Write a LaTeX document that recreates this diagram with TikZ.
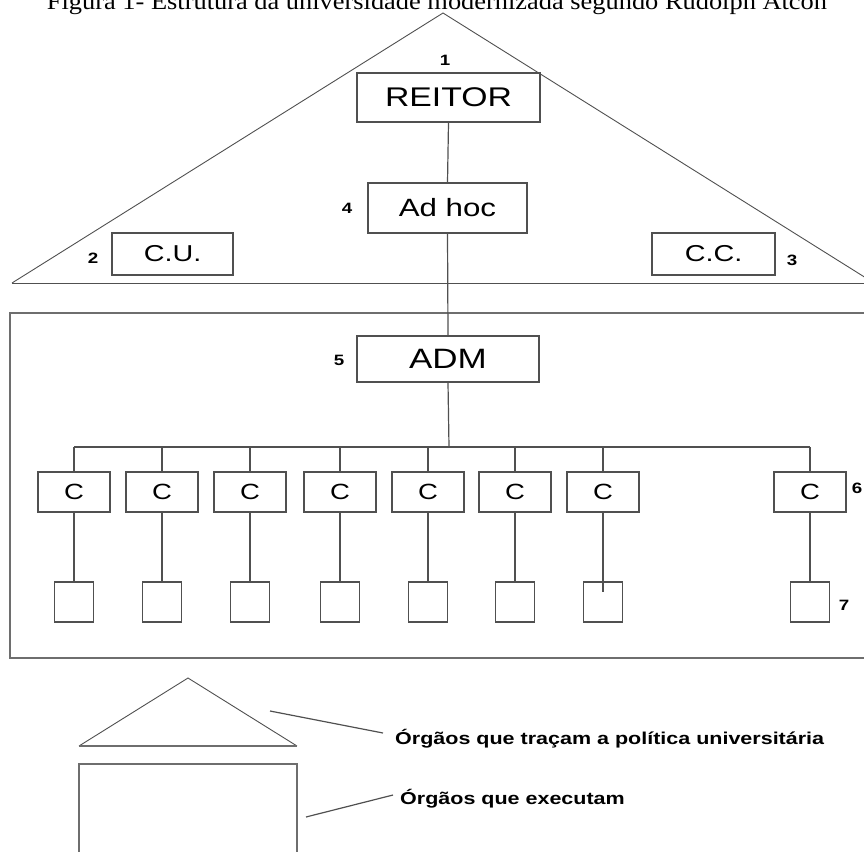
\documentclass[tikz,border=0pt]{standalone}
\usepackage{fontspec}
\setmainfont{Liberation Sans}[FakeStretch=1.25]
\newfontfamily\titlefont{Liberation Serif}[FakeStretch=1.1]
\definecolor{linecol}{HTML}{505050}
\definecolor{framecol}{HTML}{6E6E6E}
\begin{document}
\begin{tikzpicture}[x=1pt,y=-1pt,
  box/.style={draw=linecol, line width=1.2pt, inner sep=0pt, fill=white},
  link/.style={draw=linecol, line width=1.2pt},
  thin/.style={draw=linecol, line width=0.9pt},
  frame/.style={draw=framecol, line width=1.6pt},
  num/.style={font=\bfseries\fontsize{15}{15}\selectfont, inner sep=0pt},
  legtxt/.style={font=\bfseries\fontsize{17.2}{17.2}\selectfont, inner sep=0pt, anchor=base west}]
\useasboundingbox (0,0) rectangle (864,851);
\clip (0,0) rectangle (864,851);
% title
\node[inner sep=0pt, anchor=base, font=\titlefont\fontsize{24}{24}\selectfont] (title) at (437,10) {Figura 1- Estrutura da universidade modernizada segundo Rudolph Atcon};
% upper triangle
\coordinate (apex) at (443,13);
\coordinate (tl) at (12,283);
\coordinate (tr) at (874,283);
\draw[thin] (tl) -- (apex) -- (tr);
\draw[thin] (tl) -- (tr);
% frame
\coordinate (fa) at (10,313);
\coordinate (fb) at (900,658);
\draw[frame] (fa) rectangle (fb);
% boxes
\node[box, minimum width=183pt, minimum height=49pt, font=\fontsize{27}{27}\selectfont] (reitor) at (448.5,97.5) {REITOR};
\node[box, minimum width=159pt, minimum height=50pt, font=\fontsize{25}{25}\selectfont] (adhoc) at (447.5,208) {Ad hoc};
\node[box, minimum width=121pt, minimum height=42pt, font=\fontsize{23}{23}\selectfont] (cu) at (172.5,254) {C.U.};
\node[box, minimum width=123pt, minimum height=42pt, font=\fontsize{23}{23}\selectfont] (cc) at (713.5,254) {C.C.};
\node[box, minimum width=182pt, minimum height=46pt, font=\fontsize{28}{28}\selectfont] (adm) at (448,359) {ADM};
\draw[link] (reitor.south) -- (adhoc.north);
\draw[link] (adhoc.south) -- (adm.north);
% bus
\coordinate (bus) at (449,447);
\draw[link] (adm.south) -- (bus);
\foreach \i/\x in {1/74,2/162,3/250,4/340,5/428,6/515,7/603,8/810}{
  \node[box, minimum width=72pt, minimum height=40pt, font=\fontsize{22}{22}\selectfont] (c\i) at (\x,492) {C};
  \node[box, minimum width=39pt, minimum height=40pt] (s\i) at (\x,602) {};
  \coordinate (b\i) at (\x,447);
}
\draw[link] (b1) -- (b8);
\foreach \i in {1,2,3,4,5,6,8}{
  \draw[link] (b\i) -- (c\i.north);
  \draw[link] (c\i.south) -- (s\i.north);
}
\draw[link] (b7) -- (c7.north);
\coordinate (s7in) at (603,592);
\draw[link] (c7.south) -- (s7in);
% numbers
\node[num] (n1) at (445,60) {1};
\node[num] (n2) at (93,258) {2};
\node[num] (n3) at (792,260) {3};
\node[num] (n4) at (347,208) {4};
\node[num] (n5) at (339,360) {5};
\node[num] (n6) at (857,488) {6};
\node[num] (n7) at (844,605) {7};
% legend
\coordinate (la) at (188,678);
\coordinate (lb) at (79,746);
\coordinate (lc) at (297,746);
\draw[thin] (lb) -- (la) -- (lc);
\draw[frame] (lb) -- (lc);
\coordinate (ra) at (79,764);
\coordinate (rb) at (297,900);
\draw[frame] (ra) rectangle (rb);
\node[legtxt] (leg1) at (395,744) {Órgãos que traçam a política universitária};
\node[legtxt] (leg2) at (400,804) {Órgãos que executam};
\coordinate (p1) at (270,711);
\coordinate (q1) at (383,733);
\coordinate (p2) at (306,817);
\coordinate (q2) at (393,795);
\draw[link] (p1) -- (q1);
\draw[link] (p2) -- (q2);
\end{tikzpicture}
\end{document}
